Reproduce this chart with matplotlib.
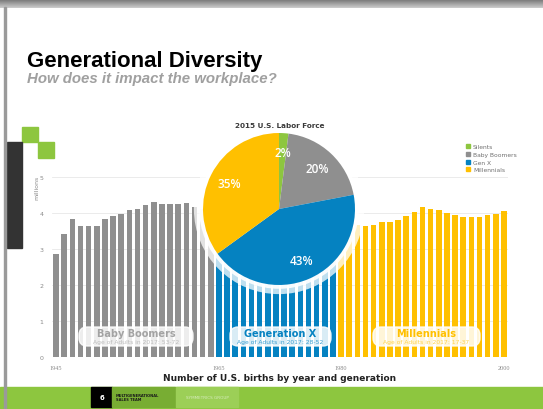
import numpy as np
import matplotlib.pyplot as plt
from matplotlib.patches import Rectangle, FancyBboxPatch, Circle, Patch
from matplotlib.transforms import IdentityTransform

# births (millions) by year
boomer_years = list(range(1945, 1965))
boomer_births = [2.86, 3.41, 3.82, 3.64, 3.65, 3.63, 3.82, 3.91, 3.97, 4.08,
                 4.10, 4.22, 4.30, 4.26, 4.25, 4.26, 4.27, 4.17, 4.10, 4.03]
genx_years = list(range(1965, 1980))
genx_births = [3.76, 3.61, 3.52, 3.50, 3.60, 3.73, 3.56, 3.26, 3.14, 3.16,
               3.14, 3.17, 3.33, 3.33, 3.49]
mill_years = list(range(1980, 2001))
mill_births = [3.61, 3.63, 3.68, 3.64, 3.67, 3.76, 3.76, 3.81, 3.91, 4.04,
               4.16, 4.11, 4.07, 4.00, 3.95, 3.90, 3.89, 3.88, 3.94, 3.96, 4.06]

# 2015 labor force shares
pie_labels = ['Silents', 'Baby Boomers', 'Gen X', 'Millennials']
pie_shares = [2, 20, 43, 35]

xticks = [1945, 1965, 1980, 2000]
yticks = [0, 1, 2, 3, 4, 5]

GREEN = '#8dc63f'
GRAY = '#8f8f8f'
BLUE = '#0582c1'
YELLOW = '#ffc000'
pie_colors = [GREEN, GRAY, BLUE, YELLOW]

W, H = 543, 410
fig = plt.figure(figsize=(W / 100, H / 100), dpi=100)
fig.patch.set_facecolor('white')


def fx(px):
    return px / W


def fy(py):
    return 1 - py / H


# slide chrome
top = fig.add_axes([0, fy(9), 1, 9 / H])
top.imshow(np.linspace(0.45, 0.8, 20).reshape(-1, 1), cmap='gray', aspect='auto',
           vmin=0, vmax=1, extent=[0, 1, 0, 1])
top.axis('off')
fig.patches.append(Rectangle((fx(4), 0), fx(2), fy(8), transform=fig.transFigure,
                             color='#9a9a9a', zorder=5))
fig.patches.append(Rectangle((fx(22), fy(143)), fx(16), 15 / H, transform=fig.transFigure,
                             color=GREEN))
fig.patches.append(Rectangle((fx(38), fy(159)), fx(16), 16 / H, transform=fig.transFigure,
                             color=GREEN))
fig.patches.append(Rectangle((fx(7), fy(249)), fx(15), 106 / H, transform=fig.transFigure,
                             color='#333333'))

fig.text(fx(27), fy(67), 'Generational Diversity', fontsize=16, fontweight='bold',
         family='Liberation Sans', color='black')
fig.text(fx(27), fy(83), 'How does it impact the workplace?', fontsize=10.8,
         fontweight='bold', style='italic', family='Liberation Sans', color='#a0a0a0')

# footer
fig.patches.append(Rectangle((0, 0), 1, 22 / H, transform=fig.transFigure, color=GREEN))
fig.patches.append(Rectangle((fx(91), fy(408)), fx(21), 20 / H, transform=fig.transFigure,
                             color='black'))
fig.patches.append(Rectangle((fx(112), fy(408)), fx(63), 20 / H, transform=fig.transFigure,
                             color='#78ad33'))
fig.patches.append(Rectangle((fx(176), fy(408)), fx(62), 20 / H, transform=fig.transFigure,
                             color='#9ccf57'))
fig.text(fx(101.5), fy(398), '6', color='white', fontsize=5, ha='center', va='center',
         fontweight='bold')
fig.text(fx(116), fy(398), 'MULTIGENERATIONAL\nSALES TEAM', color='#1a1a1a', fontsize=2.6,
         ha='left', va='center', fontweight='bold', linespacing=1.1)
fig.text(fx(207), fy(398), 'SYMMETRICS GROUP', color='#d8ecbf', fontsize=3,
         ha='center', va='center')

# bar chart
ax = fig.add_axes([fx(52), fy(358), fx(456), 180 / H])
ax.bar(boomer_years, boomer_births, width=0.68, color=GRAY, zorder=2)
ax.bar(genx_years, genx_births, width=0.68, color=BLUE, zorder=2)
ax.bar(mill_years, mill_births, width=0.68, color=YELLOW, zorder=2)
ax.set_xlim(1944.5, 2000.5)
ax.set_ylim(0, 5)
ax.set_yticks(yticks)
ax.set_xticks(xticks)
ax.grid(axis='y', color='#e8e8e8', linewidth=0.6, zorder=0)
for s in ax.spines.values():
    s.set_visible(False)
ax.tick_params(length=0, labelsize=4.5, labelcolor='#8a8a8a', pad=6)
for lab in ax.get_xticklabels():
    lab.set_family('Liberation Serif')
fig.text(fx(280), fy(379), 'Number of U.S. births by year and generation', fontsize=6.5,
         fontweight='bold', color='#222222', ha='center', va='center')
fig.text(fx(37), fy(188), 'millions', rotation=90, fontsize=4.5, color='#8a8a8a',
         ha='center', va='center')

# generation labels
gen_boxes = [(79, 193, 'Baby Boomers', 'Age of Adults in 2017: 53-72', '#a3a3a3', '#bdbdbd'),
             (230, 331, 'Generation X', 'Age of Adults in 2017: 28-52', BLUE, '#3b9fd2'),
             (373, 480, 'Millennials', 'Age of Adults in 2017: 17-37', YELLOW, '#ffd34d')]
for x0, x1, title, sub, c1, c2 in gen_boxes:
    fig.patches.append(FancyBboxPatch((x0, H - 347), x1 - x0, 19,
                                      boxstyle='round,pad=0,rounding_size=8',
                                      transform=IdentityTransform(), facecolor='white',
                                      edgecolor='white', alpha=0.85, linewidth=1, zorder=6))
    fig.text(fx((x0 + x1) / 2), fy(334), title, fontsize=7, fontweight='bold', color=c1,
             ha='center', va='center', zorder=7)
    fig.text(fx((x0 + x1) / 2), fy(343), sub, fontsize=4.3, color=c2,
             ha='center', va='center', zorder=7)

# pie with a soft white halo
pax = fig.add_axes([fx(179), fy(310), fx(200), 200 / H])
pax.set_aspect('equal')
pax.axis('off')
pax.add_patch(Circle((0, 0), 1.12, facecolor='white', alpha=0.75, edgecolor='none'))
pax.add_patch(Circle((0, 0), 1.05, facecolor='white', alpha=0.9, edgecolor='none'))
wedges, _, autotexts = pax.pie(pie_shares, colors=pie_colors, startangle=90, counterclock=False,
                               autopct='%d%%', pctdistance=0.74, radius=1,
                               wedgeprops=dict(linewidth=0),
                               textprops=dict(color='white', fontsize=8.5,
                                              family='Open Sans', fontweight='semibold'))
pax.set_xlim(-1.316, 1.316)
pax.set_ylim(-1.316, 1.316)
fig.text(fx(280), fy(126), '2015 U.S. Labor Force', fontsize=5.2, fontweight='bold',
         color='#3a3a3a', ha='center', va='center')

handles = [Patch(color=c) for c in pie_colors]
fig.legend(handles, pie_labels, loc='upper left', bbox_to_anchor=(fx(461), fy(140)),
           frameon=False, fontsize=4.3, handlelength=0.6, handleheight=0.6,
           handletextpad=0.5, labelspacing=0.45, labelcolor='#707070')

fig.savefig('out.png', dpi=100)
